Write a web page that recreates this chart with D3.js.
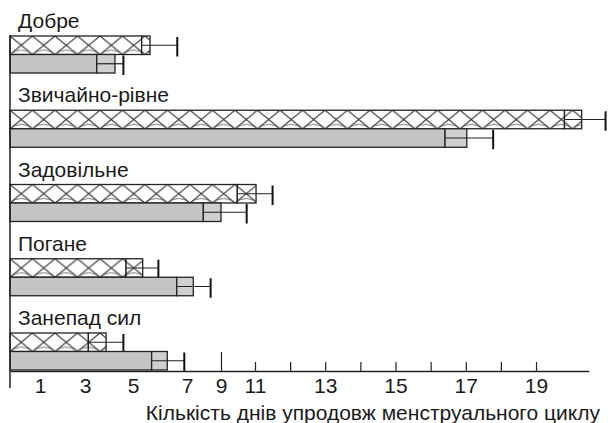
<!DOCTYPE html>
<html>
<head>
<meta charset="utf-8">
<script src="https://cdn.jsdelivr.net/npm/d3@7"></script>
<style>
  body { margin: 0; background: #fff; }
  text { font-family: "Liberation Sans", Arial, sans-serif; fill: #1a1a1a; }
</style>
</head>
<body>
<div id="chart"></div>
<script>
// categories (top to bottom)
var categories = ["Добре", "Звичайно-рівне", "Задовільне", "Погане", "Занепад сил"];

// hatched bar: mean, box end, whisker end
var hatchMean = [5.32, 19.81, 9.96, 4.71, 3.14];
var hatchBox = [5.63, 20.30, 11.03, 5.36, 3.88];
var hatchErr = [6.64, 20.98, 11.5, 5.94, 4.6];

// grey bar: mean, box end, whisker end
var grayMean = [3.49, 16.41, 7.96, 6.62, 5.69];
var grayBox = [4.25, 17.03, 9.0, 7.37, 6.27];
var grayErr = [4.6, 17.78, 10.51, 8.39, 6.9];

var tickLabels = [1, 3, 5, 7, 9, 11, 13, 15, 17, 19];
var tickMarks = [9, 11, 12, 13, 14, 15, 16, 17, 18, 19];
var axisTitle = "Кількість днів упродовж менструального циклу";

var width = 608, height = 423;
var axisY = 371, barH = 18.5;
var narrow = "'Liberation Sans Narrow', 'Arial Narrow', sans-serif";

var svg = d3.select("#chart")
  .append("svg")
  .attr("width", width)
  .attr("height", height);

// the printed axis is not evenly spaced, so use a piecewise scale
var x = d3.scaleLinear()
  .domain([0, 1, 3, 5, 7, 9, 11, 20.5])
  .range([10, 40, 85, 133, 187, 221, 255, 588.7]);

var y = d3.scaleBand()
  .domain(categories)
  .range([28, 399.25])
  .paddingInner(0);

var defs = svg.append("defs");
var pat = defs.append("pattern")
  .attr("id", "xhatch")
  .attr("patternUnits", "userSpaceOnUse")
  .attr("x", 10)
  .attr("y", 0)
  .attr("width", 22.5)
  .attr("height", barH);
pat.append("rect")
  .attr("width", 22.5)
  .attr("height", barH)
  .attr("fill", "#fff");
pat.append("path")
  .attr("d", "M0,0 L22.5," + barH + " M22.5,0 L0," + barH)
  .attr("stroke", "#333")
  .attr("stroke-width", 1.1)
  .attr("fill", "none");
pat.append("path")
  .attr("d", "M0," + barH + " Q11.25," + (barH - 9) + " 22.5," + barH)
  .attr("stroke", "#555")
  .attr("stroke-width", 0.8)
  .attr("fill", "none");

var rows = categories.map(function (c, i) {
  return {
    cat: c,
    series: [
      { off: 0, mean: hatchMean[i], box: hatchBox[i], err: hatchErr[i], fill: "url(#xhatch)", boxFill: "url(#xhatch)" },
      { off: barH, mean: grayMean[i], box: grayBox[i], err: grayErr[i], fill: "#c4c4c4", boxFill: "#cfcfcf" }
    ]
  };
});

var group = svg.append("g").selectAll("g")
  .data(rows)
  .enter()
  .append("g")
  .attr("transform", function (d) { return "translate(0," + (y(d.cat) + 8) + ")"; });

group.append("text")
  .attr("x", 18)
  .attr("y", -8)
  .style("font-family", narrow)
  .style("font-size", "21px")
  .text(function (d) { return d.cat; });

var bar = group.selectAll("g.bar")
  .data(function (d) { return d.series; })
  .enter()
  .append("g")
  .attr("class", "bar");

bar.append("rect")
  .attr("x", x(0))
  .attr("y", function (d) { return d.off; })
  .attr("width", function (d) { return x(d.mean) - x(0); })
  .attr("height", barH)
  .attr("fill", function (d) { return d.fill; })
  .attr("stroke", "#222")
  .attr("stroke-width", 1.3);

bar.append("rect")
  .attr("x", function (d) { return x(d.mean); })
  .attr("y", function (d) { return d.off; })
  .attr("width", function (d) { return x(d.box) - x(d.mean); })
  .attr("height", barH)
  .attr("fill", function (d) { return d.boxFill; })
  .attr("stroke", "#222")
  .attr("stroke-width", 1.3);

bar.append("line")
  .attr("x1", function (d) { return x(d.mean); })
  .attr("x2", function (d) { return x(d.err); })
  .attr("y1", function (d) { return d.off + barH / 2; })
  .attr("y2", function (d) { return d.off + barH / 2; })
  .attr("stroke", "#222")
  .attr("stroke-width", 1.2);

bar.append("line")
  .attr("x1", function (d) { return x(d.err); })
  .attr("x2", function (d) { return x(d.err); })
  .attr("y1", function (d) { return d.off + 1; })
  .attr("y2", function (d) { return d.off + barH + 2; })
  .attr("stroke", "#111")
  .attr("stroke-width", 2);

// left axis line
svg.append("line")
  .attr("x1", x(0)).attr("x2", x(0))
  .attr("y1", 35).attr("y2", 388)
  .attr("stroke", "#222")
  .attr("stroke-width", 1.5);

// bottom axis: line + upward tick marks
var marks = svg.append("g")
  .attr("transform", "translate(0," + axisY + ")")
  .call(d3.axisBottom(x).tickValues(tickMarks).tickSizeInner(-9).tickSizeOuter(0).tickFormat(""));
marks.select(".domain").attr("stroke", "#222").attr("stroke-width", 1.5);
marks.selectAll(".tick line")
  .attr("stroke", "#222")
  .attr("stroke-width", 1.2)
  .attr("y2", function (d) { return d === 9 ? -19 : -9; });

var labels = svg.append("g")
  .attr("transform", "translate(0," + axisY + ")")
  .call(d3.axisBottom(x).tickValues(tickLabels).tickSize(0).tickPadding(7));
labels.select(".domain").remove();
labels.selectAll("text")
  .style("font-size", "21px")
  .style("font-family", narrow)
  .attr("fill", "#1a1a1a");

svg.append("text")
  .attr("text-anchor", "end")
  .attr("x", 600)
  .attr("y", 420)
  .style("font-size", "21px")
  .text(axisTitle);
</script>
</body>
</html>
